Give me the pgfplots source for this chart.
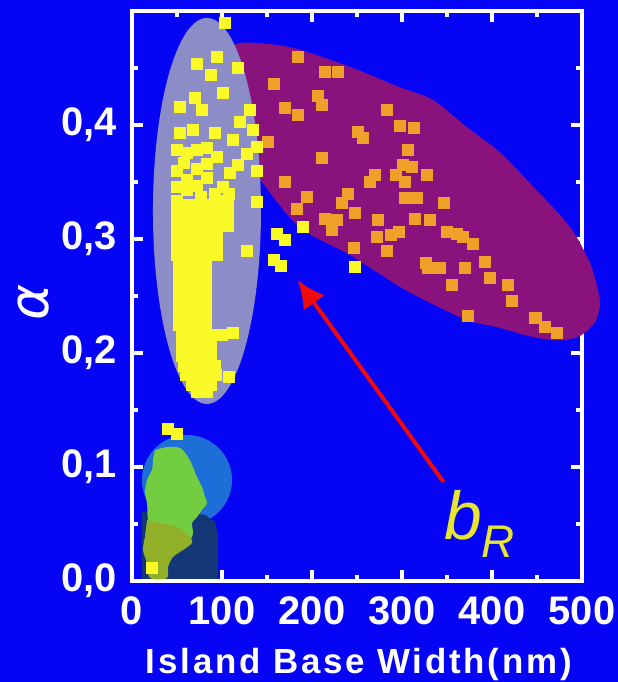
\documentclass[border=0pt]{standalone}
\usepackage{fontspec}
\setmainfont{Liberation Sans}
\newfontfamily\dejavu{DejaVu Sans}
\usepackage{pgfplots}
\pgfplotsset{compat=1.18}
\usetikzlibrary{arrows.meta}
\definecolor{bgblue}{RGB}{6,4,245}
\definecolor{greyfill}{RGB}{140,140,198}
\definecolor{redfill}{RGB}{138,18,125}
\definecolor{orangefill}{RGB}{238,160,40}
\definecolor{yellowpt}{RGB}{250,250,40}
\definecolor{tealfill}{RGB}{30,110,215}
\definecolor{navyfill}{RGB}{20,55,120}
\definecolor{limefill}{RGB}{115,205,65}
\definecolor{olivefill}{RGB}{145,175,40}
\definecolor{txtyellow}{RGB}{230,230,50}
\definecolor{arrowred}{RGB}{240,10,10}
\begin{document}
\begin{tikzpicture}
\fill[bgblue] (-132bp,-101bp) rectangle (486bp,581bp);
\begin{axis}[
  at={(0,0)}, anchor=south west,
  width=450bp, height=570bp, scale only axis,
  xmin=0, xmax=500, ymin=0, ymax=0.5,
  clip=false,
  axis line style={white, line width=4bp},
  xtick={0,100,200,300,400,500}, xticklabels={0,100,200,300,400,500},
  minor xtick={50,150,250,350,450},
  ytick={0,0.1,0.2,0.3,0.4}, yticklabels={{0,0},{0,1},{0,2},{0,3},{0,4}},
  minor ytick={0.05,0.15,0.25,0.35,0.45},
  tick align=inside, xtick pos=both, ytick pos=both,
  xticklabel pos=left, yticklabel pos=left,
  major tick length=11bp, minor tick length=6bp,
  tick style={white, line width=4bp},
  tick label style={font=\fontsize{40}{40}\selectfont\bfseries, text=white},
  xticklabel style={yshift=-12bp},
  yticklabel style={xshift=-12bp},
  xlabel={\addfontfeature{LetterSpace=8}Island Base Width(nm)},
  xlabel style={font=\fontsize{35}{35}\selectfont\bfseries, text=white,
    at={(axis description cs:0.504,-0.1614)}, anchor=base},
  ylabel={\dejavu\itshape α},
  ylabel style={font=\fontsize{55}{55}\selectfont, text=white,
    at={(axis description cs:-0.22,0.488)}, anchor=center},
]
% red region
\addplot[smooth, draw=none, fill=redfill, forget plot] coordinates {
(103.3,0.466)(120,0.472)(153.3,0.471)(186.7,0.466)(242.2,0.451)(297.8,0.433)
(334.4,0.422)(372.2,0.398)(408.9,0.376)(445.6,0.346)(475.6,0.321)(492.2,0.304)
(508.9,0.279)(517.8,0.255)(520,0.242)(514.4,0.227)(497.8,0.215)(475.6,0.211)
(445.6,0.214)(408.9,0.222)(372.2,0.229)(331.1,0.244)(297.8,0.258)(242.2,0.286)
(186.7,0.310)(144.4,0.350)(120,0.378)(97.8,0.413)(92.2,0.448)} --cycle;
% grey ellipse
\fill[greyfill] (axis cs:83.3,0.3246) ellipse [x radius=54bp, y radius=193bp];
% teal circle
\fill[tealfill] (axis cs:61.1,0.0886) circle [radius=45bp];
% navy region
\addplot[draw=none, fill=navyfill, forget plot] coordinates {
(11.1,0.0605)(47.8,0.0623)(81.1,0.0579)(92.2,0.0518)(95.6,0.0404)(95.6,0.0018)(11.1,0.0018)} --cycle;
% lime blob
\addplot[smooth, draw=none, fill=limefill, forget plot] coordinates {
(25.6,0.1149)(38.9,0.1175)(53.3,0.1167)(62.2,0.1088)(67.8,0.1000)(72.2,0.0912)
(77.8,0.0825)(81.1,0.0737)(83.3,0.0684)(77.8,0.0623)(72.2,0.0561)(66.7,0.0509)
(67.8,0.0421)(64.4,0.0360)(53.3,0.0333)(42.2,0.0342)(31.1,0.0386)(23.3,0.0474)
(17.8,0.0535)(16.7,0.0684)(14.4,0.0772)(16.7,0.0886)(22.2,0.0974)(23.3,0.1061)} --cycle;
% olive blob
\addplot[smooth, draw=none, fill=olivefill, forget plot] coordinates {
(16.7,0.0535)(31.1,0.0509)(50.0,0.0474)(64.4,0.0386)(66.7,0.0333)(56.7,0.0272)
(45.6,0.0211)(40.0,0.0123)(38.9,0.0026)(20.0,0.0026)(16.7,0.0158)(12.2,0.0272)(14.4,0.0386)} --cycle;
% orange points
\addplot[only marks, mark=square*, mark size=5.5bp, color=orangefill, mark options={fill=orangefill, draw=orangefill}] coordinates {
(184,0.460)(214,0.447)(229,0.447)(157,0.436)(206,0.426)(211,0.418)(170,0.415)(184,0.409)
(283,0.413)(251,0.394)(256,0.389)(298,0.399)(313,0.398)(151,0.385)(211,0.371)(170,0.350)
(306,0.378)(301,0.365)(311,0.363)(293,0.356)(303,0.350)(264,0.350)(270,0.356)(328,0.356)
(194,0.337)(240,0.340)(233,0.332)(303,0.336)(316,0.336)(183,0.327)(214,0.318)(248,0.323)
(273,0.317)(228,0.317)(314,0.318)(222,0.308)(272,0.302)(287,0.304)(296,0.306)(283,0.290)
(246,0.292)(326,0.279)(346,0.332)(331,0.317)(350,0.306)(361,0.305)(368,0.302)(379,0.296)
(329,0.275)(342,0.275)(355,0.260)(370,0.275)(392,0.280)(398,0.266)(417,0.260)(422,0.246)
(373,0.233)(448,0.231)(459,0.223)(472,0.218)};
% yellow points
\addplot[only marks, mark=square*, mark size=5.5bp, color=yellowpt, mark options={fill=yellowpt, draw=yellowpt}] coordinates {
(103,0.490)(94,0.460)(72,0.454)(117,0.450)(87,0.444)(101,0.428)(70,0.424)(53,0.416)
(78,0.413)(131,0.413)(120,0.403)(53,0.393)(68,0.396)(92,0.393)(112,0.387)(134,0.396)
(139,0.381)(72,0.378)(128,0.375)(57,0.367)(94,0.372)(139,0.360)(109,0.358)(61,0.352)
(83,0.354)(101,0.346)(50,0.334)(76,0.337)(98,0.334)(139,0.333)
(50,0.378)(61,0.376)(83,0.380)(50,0.360)(72,0.362)(83,0.366)(61,0.343)(72,0.347)
(92,0.340)(50,0.346)(107,0.340)(117,0.365)
(50,0.330)(61,0.330)(72,0.330)(83,0.330)(94,0.330)(106,0.330)
(50,0.321)(61,0.321)(72,0.321)(83,0.321)(94,0.321)(106,0.321)
(50,0.312)(61,0.312)(72,0.312)(83,0.312)(94,0.312)(106,0.312)
(50,0.304)(61,0.304)(72,0.304)(83,0.304)(94,0.304)
(50,0.295)(61,0.295)(72,0.295)(83,0.295)(94,0.295)(128,0.290)
(50,0.286)(61,0.286)(72,0.286)(83,0.286)(94,0.286)
(52,0.277)(62,0.277)(72,0.277)(82,0.277)
(52,0.268)(62,0.268)(72,0.268)(82,0.268)
(52,0.260)(62,0.260)(72,0.260)(82,0.260)
(52,0.251)(62,0.251)(72,0.251)(82,0.251)
(52,0.242)(62,0.242)(72,0.242)(82,0.242)
(52,0.233)(62,0.233)(72,0.233)(82,0.233)
(52,0.225)(62,0.225)(72,0.225)(82,0.225)
(55,0.216)(66,0.216)(77,0.216)(88,0.216)(100,0.216)(112,0.218)
(55,0.207)(66,0.207)(77,0.207)(88,0.207)
(55,0.198)(66,0.198)(77,0.198)(88,0.198)
(58,0.189)(69,0.189)(80,0.189)(92,0.189)
(60,0.181)(71,0.181)(82,0.181)(93,0.181)(107,0.179)
(66,0.172)(77,0.172)(88,0.172)
(72,0.166)(83,0.166)
(161,0.305)(170,0.299)(157,0.282)(165,0.277)(190,0.311)(248,0.276)
(40,0.134)(50,0.129)(22,0.012)};
% arrow and label
\draw[arrowred, line width=4bp, -{Latex[length=28bp, width=26bp]}] (axis cs:346,0.087) -- (axis cs:184,0.264);
\node[anchor=base west, inner sep=0pt, text=txtyellow, font=\fontsize{68}{68}\selectfont\itshape] at (axis cs:347,0.036) {b};
\node[anchor=base west, inner sep=0pt, text=txtyellow, font=\fontsize{46}{46}\selectfont\itshape] at (axis cs:388,0.021) {R};
\end{axis}
\pgfresetboundingbox
\useasboundingbox (-132bp,-101bp) rectangle (486bp,581bp);
\end{tikzpicture}
\end{document}
